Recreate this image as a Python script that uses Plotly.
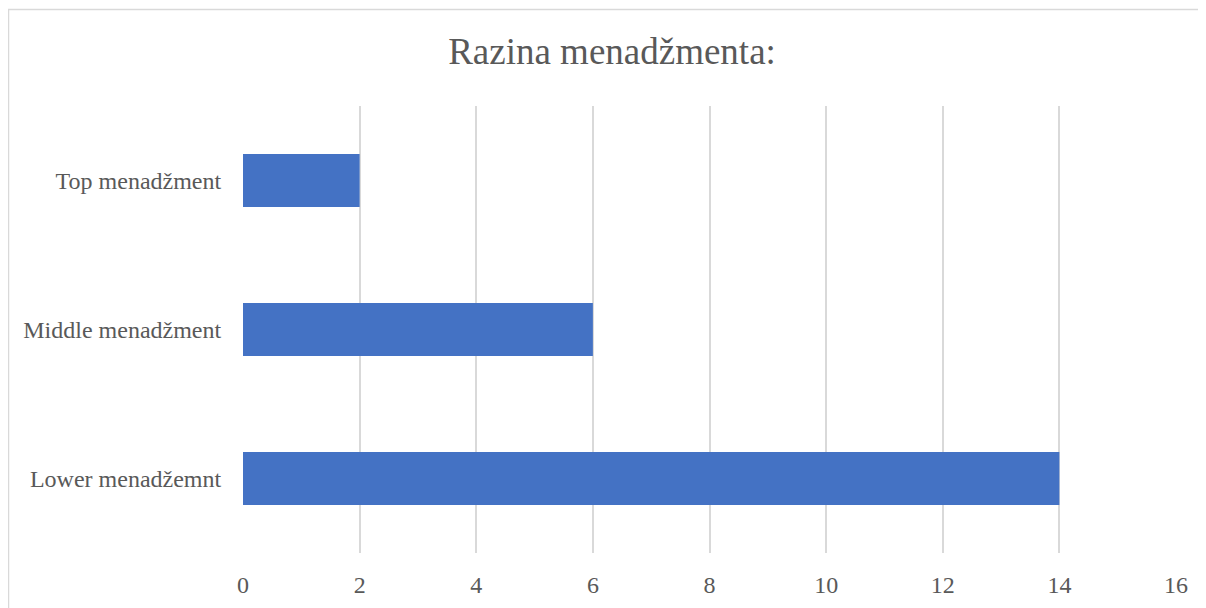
import plotly.graph_objects as go

categories = ["Lower menadžemnt", "Middle menadžment", "Top menadžment"]
values = [14, 6, 2]
x_ticks = [0, 2, 4, 6, 8, 10, 12, 14, 16]

OFF = 8  # page body margin
W, H = 1206 - OFF, 608 - OFF
L, T = 243 - OFF, 106 - OFF
pw, ph = 933, 447
R = W - L - pw
B = H - T - ph

fig = go.Figure()
fig.add_trace(go.Bar(
    y=categories, x=values, orientation="h",
    marker=dict(color="#4472C4", line=dict(width=0)),
    width=0.355,
))

font_family = "Liberation Serif, Times New Roman, serif"
fig.update_layout(
    width=W, height=H,
    margin=dict(l=L, r=R, t=T, b=B, autoexpand=False),
    paper_bgcolor="white", plot_bgcolor="white",
    showlegend=False,
    title=dict(text="Razina menadžmenta:", x=(612 - OFF) / W, xanchor="center",
               y=1 - (51 - OFF) / H, yanchor="middle",
               font=dict(family=font_family, size=37, color="#595959")),
    xaxis=dict(range=[0, 16], tickvals=x_ticks, showgrid=True, gridcolor="#d9d9d9",
               gridwidth=1.5, zeroline=False, showline=False, automargin=False,
               ticks="outside", ticklen=10, tickcolor="rgba(0,0,0,0)",
               tickfont=dict(family=font_family, size=24, color="#595959")),
    yaxis=dict(range=[-0.5, 2.5], showgrid=False, zeroline=False, showline=False,
               automargin=False,
               ticks="outside", ticklen=16, tickcolor="rgba(0,0,0,0)",
               tickfont=dict(family=font_family, size=24, color="#595959")),
    shapes=[dict(type="rect", xref="paper", yref="paper",
                 x0=(0.5 - L) / pw, x1=(W + 20 - L) / pw,
                 y0=(ph - (H + 20 - T)) / ph, y1=(ph - (1.5 - T)) / ph,
                 line=dict(color="#d9d9d9", width=1.5), fillcolor="rgba(0,0,0,0)",
                 layer="below")],
)

fig.write_html("out.html")
